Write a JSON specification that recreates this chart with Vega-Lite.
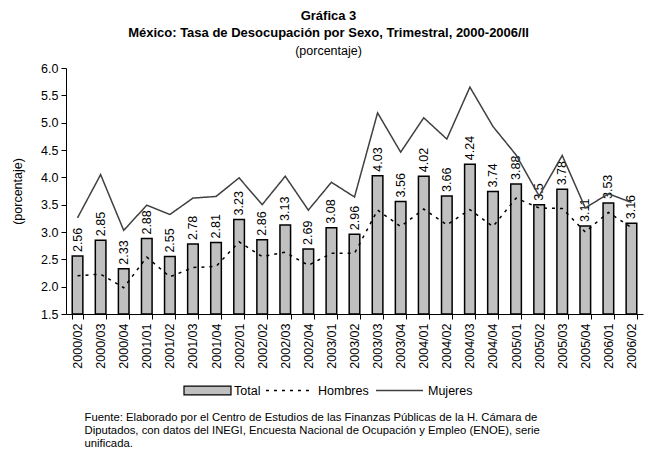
{
  "$schema": "https://vega.github.io/schema/vega-lite/v6.json",
  "width": 577,
  "height": 246,
  "autosize": "none",
  "padding": {"left": 66, "top": 68, "right": 10, "bottom": 135},
  "background": "white",
  "config": {
    "font": "Liberation Sans",
    "view": {"stroke": null},
    "axis": {"grid": false, "domainColor": "black", "tickColor": "black", "labelColor": "black", "titleColor": "black", "labelFont": "Liberation Sans", "titleFont": "Liberation Sans", "labelFontSize": 12.5, "titleFontWeight": "normal", "labelOverlap": false, "zindex": 1},
    "legend": {"labelFont": "Liberation Sans", "labelFontSize": 12.5, "labelColor": "black"}
  },
  "title": {
    "text": ["Gráfica 3", "México: Tasa de Desocupación por Sexo, Trimestral, 2000-2006/II"],
    "subtitle": "(porcentaje)",
    "anchor": "middle",
    "frame": "group",
    "dx": -26,
    "offset": 5,
    "font": "Liberation Sans",
    "fontSize": 13,
    "fontWeight": "bold",
    "lineHeight": 17,
    "color": "black",
    "subtitleFont": "Liberation Sans",
    "subtitleFontSize": 12.5,
    "subtitleColor": "black",
    "subtitlePadding": 5
  },
  "data": {
    "values": [
      {"periodo": "2000/02", "total": 2.56, "hombres": 2.20, "mujeres": 3.26},
      {"periodo": "2000/03", "total": 2.85, "hombres": 2.23, "mujeres": 4.05},
      {"periodo": "2000/04", "total": 2.33, "hombres": 1.98, "mujeres": 3.03},
      {"periodo": "2001/01", "total": 2.88, "hombres": 2.54, "mujeres": 3.49},
      {"periodo": "2001/02", "total": 2.55, "hombres": 2.18, "mujeres": 3.32},
      {"periodo": "2001/03", "total": 2.78, "hombres": 2.35, "mujeres": 3.62},
      {"periodo": "2001/04", "total": 2.81, "hombres": 2.37, "mujeres": 3.65},
      {"periodo": "2002/01", "total": 3.23, "hombres": 2.82, "mujeres": 3.99},
      {"periodo": "2002/02", "total": 2.86, "hombres": 2.55, "mujeres": 3.50},
      {"periodo": "2002/03", "total": 3.13, "hombres": 2.63, "mujeres": 4.02},
      {"periodo": "2002/04", "total": 2.69, "hombres": 2.39, "mujeres": 3.40},
      {"periodo": "2003/01", "total": 3.08, "hombres": 2.61, "mujeres": 3.91},
      {"periodo": "2003/02", "total": 2.96, "hombres": 2.61, "mujeres": 3.64},
      {"periodo": "2003/03", "total": 4.03, "hombres": 3.40, "mujeres": 5.18},
      {"periodo": "2003/04", "total": 3.56, "hombres": 3.10, "mujeres": 4.46},
      {"periodo": "2004/01", "total": 4.02, "hombres": 3.42, "mujeres": 5.09},
      {"periodo": "2004/02", "total": 3.66, "hombres": 3.13, "mujeres": 4.70},
      {"periodo": "2004/03", "total": 4.24, "hombres": 3.41, "mujeres": 5.65},
      {"periodo": "2004/04", "total": 3.74, "hombres": 3.10, "mujeres": 4.93},
      {"periodo": "2005/01", "total": 3.88, "hombres": 3.62, "mujeres": 4.41},
      {"periodo": "2005/02", "total": 3.5, "hombres": 3.44, "mujeres": 3.66},
      {"periodo": "2005/03", "total": 3.78, "hombres": 3.43, "mujeres": 4.40},
      {"periodo": "2005/04", "total": 3.11, "hombres": 3.00, "mujeres": 3.44},
      {"periodo": "2006/01", "total": 3.53, "hombres": 3.36, "mujeres": 3.70},
      {"periodo": "2006/02", "total": 3.16, "hombres": 3.08, "mujeres": 3.54}
    ]
  },
  "encoding": {
    "x": {
      "field": "periodo", "type": "nominal", "sort": null,
      "scale": {"paddingInner": 0.54, "paddingOuter": 0.27},
      "axis": {
        "title": ["Fuente: Elaborado por el Centro de Estudios de las Finanzas Públicas  de la H. Cámara de", "Diputados, con datos del INEGI, Encuesta Nacional de Ocupación y Empleo (ENOE), serie", "unificada."],
        "titleFontSize": 11.3,
        "titleLineHeight": 13,
        "titleAnchor": "start",
        "titleAlign": "left",
        "titleBaseline": "top",
        "titleX": 18,
        "titleY": 97,
        "labelAngle": 270,
        "labelAlign": "right",
        "labelBaseline": "middle",
        "labelPadding": 4,
        "tickBand": "extent",
        "tickSize": 5,
        "domainWidth": 1
      }
    }
  },
  "layer": [
    {
      "mark": {"type": "bar", "stroke": "black", "strokeWidth": 1.5, "clip": true},
      "encoding": {
        "y": {
          "field": "total", "type": "quantitative",
          "scale": {"domain": [1.5, 6], "nice": false, "zero": false},
          "axis": {"title": "(porcentaje)", "titleFontSize": 12.5, "titlePadding": 16, "values": [1.5, 2, 2.5, 3, 3.5, 4, 4.5, 5, 5.5, 6], "format": ".1f", "tickSize": 5, "labelPadding": 3, "labelOverlap": false, "labelBound": false, "labelFlush": false}
        },
        "y2": {"datum": 1.5},
        "fill": {
          "datum": "Total",
          "scale": {"range": ["#C0C0C0"]},
          "legend": {"title": null, "orient": "none", "legendX": 117, "legendY": 298, "symbolType": "M-1,-0.19H1V0.19H-1Z", "symbolSize": 2209, "symbolStrokeColor": "black", "symbolStrokeWidth": 1.2, "labelOffset": 2}
        }
      }
    },
    {
      "mark": {"type": "text", "angle": 270, "align": "left", "baseline": "middle", "dx": 4, "fontSize": 12.5, "font": "Liberation Sans", "color": "black"},
      "encoding": {
        "y": {"field": "total", "type": "quantitative", "axis": {"title": "(porcentaje)", "values": [1.5, 2, 2.5, 3, 3.5, 4, 4.5, 5, 5.5, 6], "format": ".1f", "labelOverlap": false}},
        "text": {"field": "total", "type": "quantitative"}
      }
    },
    {
      "transform": [{"fold": ["hombres", "mujeres"], "as": ["serie", "valor"]},
        {"calculate": "datum.serie == 'hombres' ? 'Hombres' : 'Mujeres'", "as": "Serie"}],
      "mark": {"type": "line", "strokeWidth": 1.5},
      "encoding": {
        "y": {"field": "valor", "type": "quantitative", "axis": {"title": "(porcentaje)", "values": [1.5, 2, 2.5, 3, 3.5, 4, 4.5, 5, 5.5, 6], "format": ".1f", "labelOverlap": false}},
        "stroke": {
          "field": "Serie", "type": "nominal",
          "scale": {"domain": ["Hombres", "Mujeres"], "range": ["black", "#404040"]},
          "legend": {"title": null, "orient": "none", "direction": "horizontal", "legendX": 199, "legendY": 298, "symbolType": "stroke", "symbolSize": 2209, "symbolStrokeWidth": 1.5, "labelOffset": 4, "columnPadding": 4}
        },
        "strokeDash": {
          "field": "Serie", "type": "nominal",
          "scale": {"domain": ["Hombres", "Mujeres"], "range": [[3, 5], [1, 0]]},
          "legend": {"title": null, "orient": "none", "direction": "horizontal", "legendX": 199, "legendY": 298, "symbolType": "stroke", "symbolSize": 2209, "symbolStrokeWidth": 1.5, "labelOffset": 4, "columnPadding": 4}
        }
      }
    }
  ]
}
